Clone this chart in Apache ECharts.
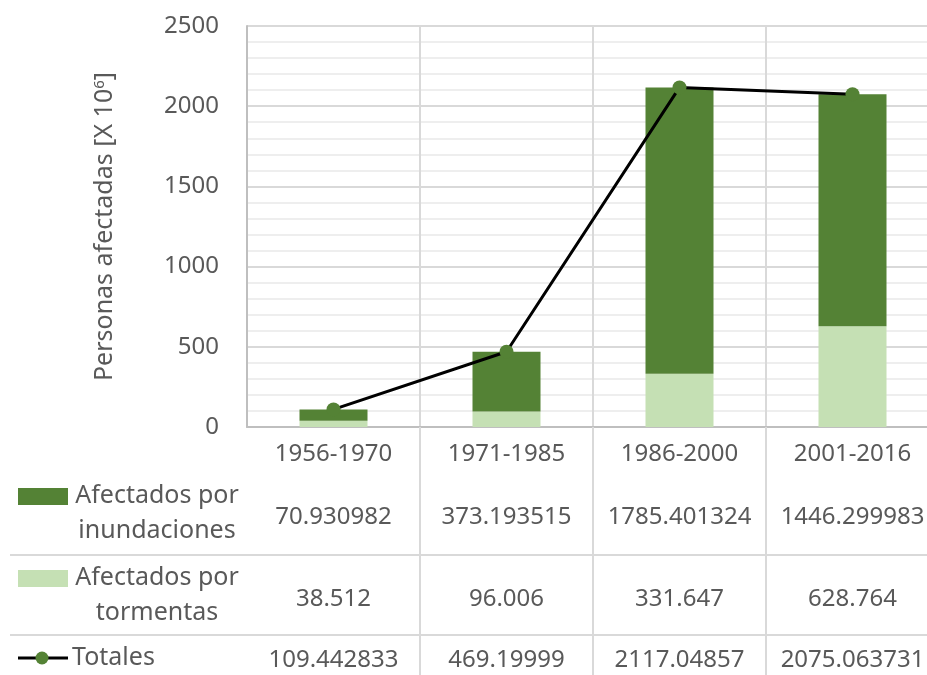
<!DOCTYPE html>
<html>
<head>
<meta charset="utf-8">
<script src="https://cdn.jsdelivr.net/npm/echarts@6/dist/echarts.min.js"></script>
<style>
  html, body { margin: 0; padding: 0; background: #fff; overflow: hidden; }
  /* la tabla original queda cortada por la derecha */
  #chart { width: 939px; height: 675px; }
</style>
</head>
<body>
<div id="chart"></div>
<script>
// datos
const periodos = ['1956-1970', '1971-1985', '1986-2000', '2001-2016'];
const inundaciones = [70.930982, 373.193515, 1785.401324, 1446.299983];
const tormentas = [38.512, 96.006, 331.647, 628.764];
const totales = [109.442833, 469.19999, 2117.04857, 2075.063731];
const nombres = ['Afectados por inundaciones', 'Afectados por tormentas', 'Totales'];

const oscuro = '#548235';
const claro = '#c5e0b4';
const gris = '#595959';
const fuente = 'Noto Sans';

const chart = echarts.init(document.getElementById('chart'));

// fila de la tabla como eje extra
function filaTabla(datos, offset) {
  return {
    type: 'category',
    gridIndex: 0,
    position: 'bottom',
    offset: offset,
    data: datos.map(String),
    axisLine: { show: false },
    axisTick: { show: false },
    splitLine: { show: false },
    axisLabel: { color: gris, fontSize: 24, fontFamily: fuente, margin: 15, interval: 0 }
  };
}

const option = {
  animation: false,
  backgroundColor: '#fff',
  textStyle: { fontFamily: fuente },
  grid: { left: 247, top: 26, width: 692, height: 401 },
  xAxis: [
    {
      type: 'category',
      data: periodos,
      axisLine: { lineStyle: { color: '#bfbfbf', width: 2 } },
      axisTick: {
        show: true,
        length: 250,
        interval: (i) => i !== 0,
        lineStyle: { color: '#d9d9d9', width: 2 }
      },
      splitLine: { show: true, lineStyle: { color: '#d9d9d9', width: 2 } },
      axisLabel: { color: gris, fontSize: 24, fontFamily: fuente, margin: 15, interval: 0 }
    },
    filaTabla(inundaciones, 63),
    filaTabla(tormentas, 145),
    filaTabla(totales, 206)
  ],
  yAxis: {
    type: 'value',
    min: 0,
    max: 2500,
    interval: 500,
    minorTick: { show: false, splitNumber: 5 },
    name: 'Personas afectadas [X 10{sup|6}]',
    nameLocation: 'middle',
    nameGap: 130,
    nameTextStyle: {
      color: gris, fontSize: 25, fontFamily: fuente,
      rich: { sup: { fontSize: 15, verticalAlign: 'top', color: gris, fontFamily: fuente, padding: [0, 0, 10, 0] } }
    },
    axisLine: { show: true, lineStyle: { color: '#bfbfbf', width: 2 } },
    axisTick: { show: false },
    axisLabel: { color: gris, fontSize: 24, fontFamily: fuente, margin: 28, formatter: (v) => String(v) },
    splitLine: { lineStyle: { color: '#d9d9d9', width: 2 } },
    minorSplitLine: { show: true, lineStyle: { color: '#eeeeee', width: 2 } }
  },
  series: [
    {
      name: nombres[1],
      type: 'bar',
      stack: 'total',
      barWidth: 68,
      data: tormentas,
      itemStyle: { color: claro }
    },
    {
      name: nombres[0],
      type: 'bar',
      stack: 'total',
      barWidth: 68,
      data: inundaciones,
      itemStyle: { color: oscuro }
    },
    {
      name: nombres[2],
      type: 'line',
      data: totales,
      symbol: 'circle',
      symbolSize: 14,
      itemStyle: { color: oscuro },
      lineStyle: { color: '#000', width: 3 },
      z: 5
    }
  ],
  graphic: [
    // lineas horizontales de la tabla
    { type: 'line', shape: { x1: 10, y1: 555, x2: 939, y2: 555 }, style: { stroke: '#d9d9d9', lineWidth: 2 } },
    { type: 'line', shape: { x1: 10, y1: 635, x2: 939, y2: 635 }, style: { stroke: '#d9d9d9', lineWidth: 2 } },
    // claves de leyenda
    { type: 'rect', shape: { x: 18, y: 488, width: 50, height: 17 }, style: { fill: oscuro } },
    { type: 'rect', shape: { x: 18, y: 570, width: 50, height: 17 }, style: { fill: claro } },
    { type: 'line', shape: { x1: 18, y1: 658, x2: 68, y2: 658 }, style: { stroke: '#000', lineWidth: 3 } },
    { type: 'circle', shape: { cx: 42, cy: 658, r: 6.5 }, style: { fill: oscuro } },
    {
      type: 'text',
      style: { x: 157, y: 478, text: 'Afectados por\ninundaciones', fill: gris, font: '25px "Noto Sans"', align: 'center', lineHeight: 35 }
    },
    {
      type: 'text',
      style: { x: 157, y: 560, text: 'Afectados por\ntormentas', fill: gris, font: '25px "Noto Sans"', align: 'center', lineHeight: 35 }
    },
    {
      type: 'text',
      style: { x: 72, y: 658, text: 'Totales', fill: gris, font: '25px "Noto Sans"', verticalAlign: 'middle' }
    }
  ]
};

chart.setOption(option);
</script>
</body>
</html>
